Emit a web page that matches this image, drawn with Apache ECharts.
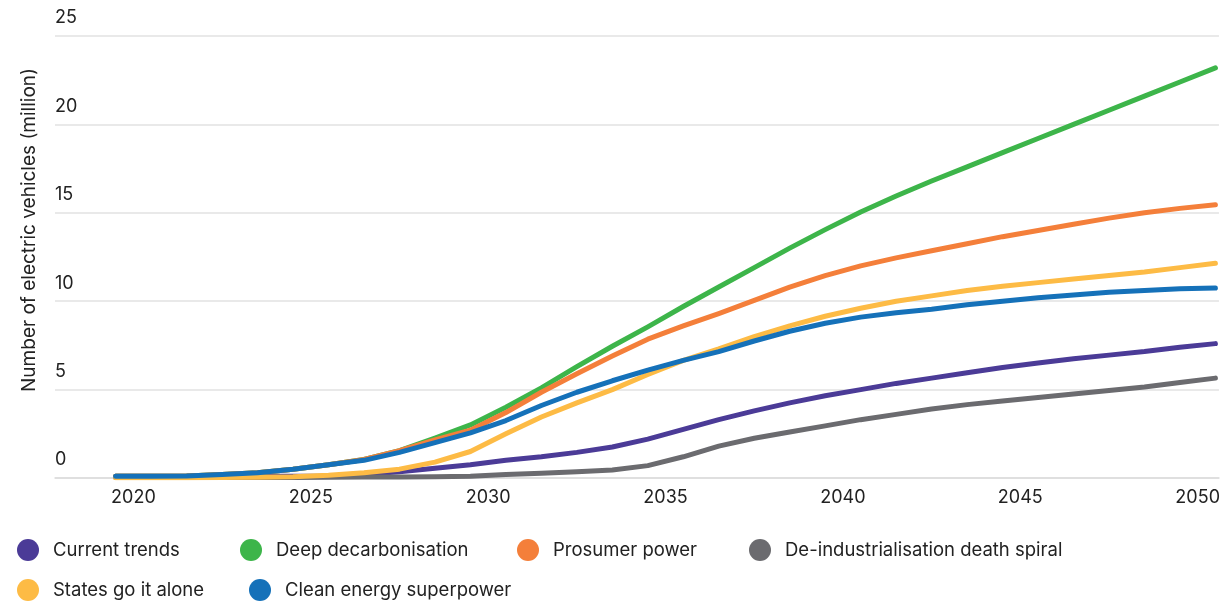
<!DOCTYPE html>
<html>
<head>
<meta charset="utf-8">
<script src="https://cdn.jsdelivr.net/npm/echarts@6/dist/echarts.min.js"></script>
<style>
html, body { margin: 0; padding: 0; background: #fff; }
#chart { width: 1223px; height: 601px; }
</style>
</head>
<body>
<div id="chart"></div>
<script>
// mid-year points
var years = [2019.5, 2020.5, 2021.5, 2022.5, 2023.5, 2024.5, 2025.5, 2026.5, 2027.5, 2028.5,
    2029.5, 2030.5, 2031.5, 2032.5, 2033.5, 2034.5, 2035.5, 2036.5, 2037.5, 2038.5,
    2039.5, 2040.5, 2041.5, 2042.5, 2043.5, 2044.5, 2045.5, 2046.5, 2047.5, 2048.5,
    2049.5, 2050.5];
var xTicks = [2020, 2025, 2030, 2035, 2040, 2045, 2050];

var currentTrends = [0.1, 0.1, 0.1, 0.1, 0.1, 0.1, 0.12, 0.2, 0.35, 0.55,
    0.75, 1.0, 1.2, 1.45, 1.75, 2.2, 2.75, 3.3, 3.8, 4.25,
    4.65, 5.0, 5.35, 5.65, 5.95, 6.25, 6.5, 6.75, 6.95, 7.15,
    7.4, 7.6];
var deepDecarb = [0.1, 0.1, 0.12, 0.2, 0.3, 0.5, 0.75, 1.05, 1.55, 2.25,
    3.0, 4.0, 5.1, 6.3, 7.45, 8.55, 9.7, 10.8, 11.9, 13.0,
    14.05, 15.05, 15.95, 16.8, 17.6, 18.4, 19.2, 20.0, 20.8, 21.6,
    22.4, 23.2];
var prosumer = [0.1, 0.1, 0.12, 0.2, 0.3, 0.5, 0.75, 1.05, 1.55, 2.15,
    2.7, 3.7, 4.85, 5.9, 6.9, 7.85, 8.6, 9.3, 10.05, 10.8,
    11.45, 12.0, 12.45, 12.85, 13.25, 13.65, 14.0, 14.35, 14.7, 15.0,
    15.25, 15.45];
var deIndustrial = [0.03, 0.03, 0.03, 0.03, 0.03, 0.03, 0.04, 0.05, 0.05, 0.07,
    0.1, 0.2, 0.27, 0.35, 0.45, 0.7, 1.2, 1.8, 2.25, 2.6,
    2.95, 3.3, 3.6, 3.9, 4.15, 4.35, 4.55, 4.75, 4.95, 5.15,
    5.4, 5.65];
var statesAlone = [0.02, 0.02, 0.02, 0.03, 0.04, 0.07, 0.15, 0.3, 0.5, 0.9,
    1.5, 2.5, 3.45, 4.25, 5.0, 5.85, 6.65, 7.3, 8.0, 8.6,
    9.15, 9.6, 10.0, 10.3, 10.6, 10.85, 11.05, 11.25, 11.45, 11.65,
    11.9, 12.15];
var cleanEnergy = [0.1, 0.1, 0.12, 0.2, 0.3, 0.5, 0.75, 1.0, 1.45, 2.0,
    2.55, 3.25, 4.1, 4.85, 5.5, 6.1, 6.65, 7.15, 7.75, 8.3,
    8.75, 9.1, 9.35, 9.55, 9.8, 10.0, 10.2, 10.35, 10.5, 10.6,
    10.7, 10.75];

var names = ['Current trends', 'Deep decarbonisation', 'Prosumer power',
    'De-industrialisation death spiral', 'States go it alone', 'Clean energy superpower'];
var colors = ['#4b3b97', '#3db54a', '#f47f3a', '#6b6b6f', '#fdbb45', '#1571b9'];
var values = [currentTrends, deepDecarb, prosumer, deIndustrial, statesAlone, cleanEnergy];

function pairs(arr) {
    return arr.map(function (v, i) { return [years[i], v]; });
}

var font = 'Inter, Roboto, sans-serif';

// legend spots: [left, top]
var legendPos = [[17, 539], [240, 539], [517, 539], [749, 539], [17, 579], [249, 579]];

var chart = echarts.init(document.getElementById('chart'));
chart.setOption({
    animation: false,
    color: colors,
    grid: { left: 55, right: 3, top: 36, bottom: 123, containLabel: false },
    legend: names.map(function (n, i) {
        return {
            data: [n],
            left: legendPos[i][0],
            top: legendPos[i][1],
            padding: 0,
            icon: 'circle',
            itemWidth: 22,
            itemHeight: 22,
            selectedMode: false,
            textStyle: { fontFamily: font, fontSize: 18.5, color: '#222', padding: [0, 0, 0, 9] }
        };
    }),
    xAxis: {
        type: 'value',
        min: 2017.79,
        max: 2050.6,
        splitLine: { show: false },
        axisTick: { show: false },
        axisLine: { lineStyle: { color: '#dcdcdc', width: 1.5 } },
        axisLabel: {
            customValues: xTicks,
            formatter: function (v) { return String(v); },
            fontFamily: font,
            fontSize: 18,
            color: '#222',
            margin: 11
        }
    },
    yAxis: {
        type: 'value',
        min: 0,
        max: 25,
        interval: 5,
        name: 'Number of electric vehicles (million)',
        nameLocation: 'middle',
        nameRotate: 90,
        nameGap: 16,
        nameTextStyle: { fontFamily: font, fontSize: 19, color: '#222', padding: [0, 0, 0, 54] },
        axisLine: { show: false },
        axisTick: { show: false },
        splitLine: { lineStyle: { color: '#e2e2e2', width: 1.5 } },
        axisLabel: {
            inside: true,
            margin: 0,
            verticalAlign: 'bottom',
            padding: [0, 0, 9, 0],
            fontFamily: font,
            fontSize: 18,
            color: '#222'
        }
    },
    series: names.map(function (n, i) {
        return {
            name: n,
            type: 'line',
            data: pairs(values[i]),
            showSymbol: false,
            lineStyle: { width: 5, cap: 'round', join: 'round' }
        };
    })
});
</script>
</body>
</html>
